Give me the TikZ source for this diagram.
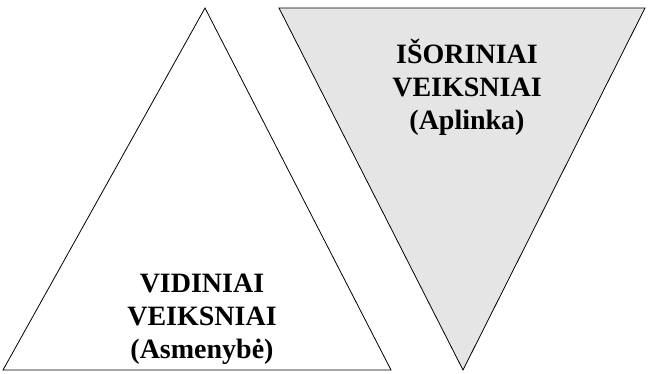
\documentclass[tikz,border=0pt]{standalone}
\usepackage{fontspec}
\setmainfont{Liberation Serif}
\usepackage{tikz}

\begin{document}
\begin{tikzpicture}[x=1pt,y=-1pt,line width=0.8pt,
  factor/.style={align=center,font=\fontsize{28}{33}\selectfont\bfseries,inner sep=0pt}]

  \useasboundingbox (0,0) rectangle (649,373);

  % inner factors, pointing up
  \draw[fill=white] (205,8) -- (391,370) -- (3,370) -- cycle;
  % outer factors, pointing down
  \draw[fill=gray!20] (279,8) -- (645,8) -- (463,370) -- cycle;

  \node[factor] (inner) at (202,319) {VIDINIAI\\VEIKSNIAI\\(Asmenybė)};
  \node[factor] (outer) at (467,87) {IŠORINIAI\\VEIKSNIAI\\(Aplinka)};
\end{tikzpicture}
\end{document}
